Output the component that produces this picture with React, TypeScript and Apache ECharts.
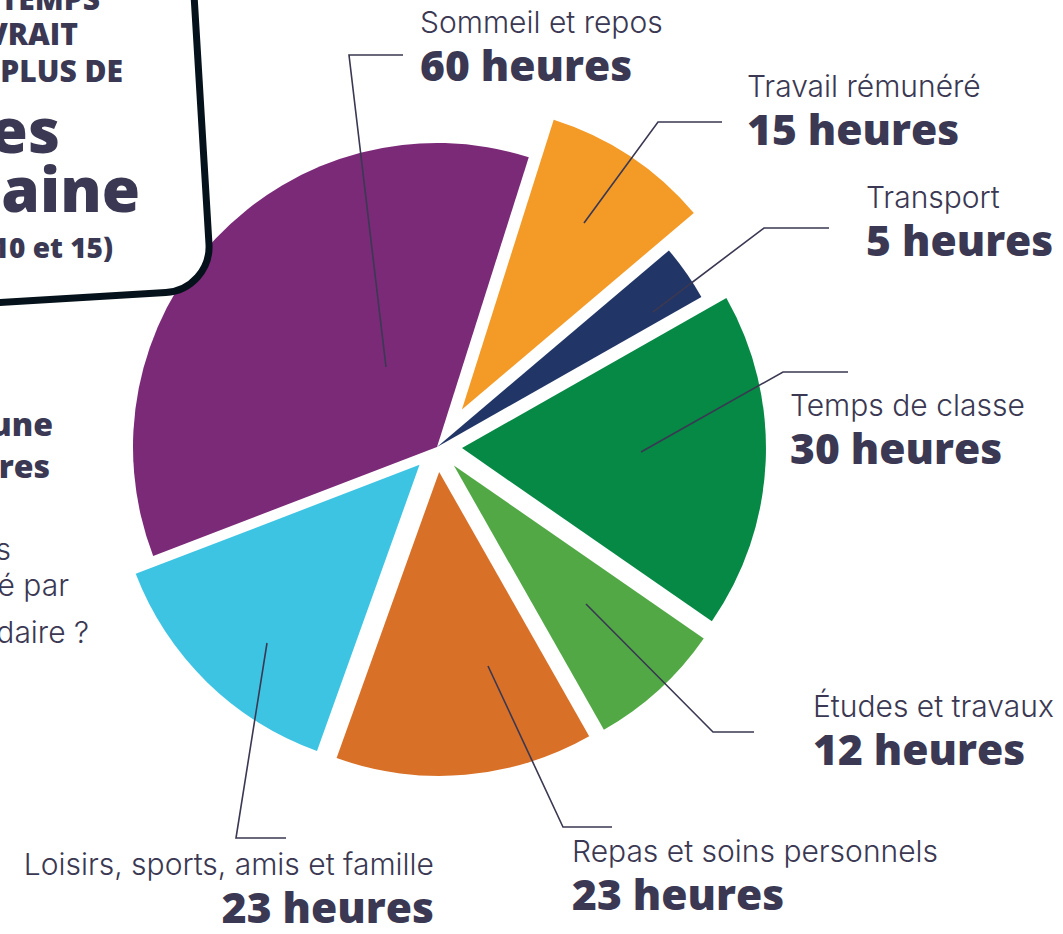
import React, { useEffect, useRef } from "react";
import * as echarts from "echarts";

// ---- data ----
const categories = [
  "Sommeil et repos",
  "Travail rémunéré",
  "Transport",
  "Temps de classe",
  "Études et travaux",
  "Repas et soins personnels",
  "Loisirs, sports, amis et famille",
];
const hours = [60, 15, 5, 30, 12, 23, 23];
const unit = "heures";
const sliceColors = ["#7b2a78", "#f39a27", "#213566", "#058945", "#51a845", "#d97027", "#3ec4e3"];
// explode level of each slice: 0 = in place, 1 = pulled out, 2 = pulled out further
const explodeLevel = [0, 2, 0, 1, 1, 1, 1];

// fragments of the neighbouring panel (cut by the page edge)
const boxLines = ["TEMPS", "VRAIT", "PLUS DE"];
const boxBig = ["es", "maine"];
const boxNote = "10 et 15)";
const sideBold = ["une", "res"];
const sideRegular = ["s", "é par", "daire ?"];

// ---- layout / style ----
const INK = "#3a3852";
const CENTER = [437, 447];
const RADIUS = 304;
const START = 201;
const labelAnchors: [number, number, "left" | "right"][] = [
  [420, 6, "left"],
  [747, 70, "left"],
  [866, 181, "left"],
  [790, 389, "left"],
  [813, 690, "left"],
  [572, 835, "left"],
  [434, 848, "right"],
];
const leaderLines = [
  [[386, 367], [349, 55], [403, 55]],
  [[584, 223], [658, 122], [722, 122]],
  [[653, 312], [764, 228], [829, 228]],
  [[641, 452], [783, 372], [848, 372]],
  [[586, 604], [713, 732], [754, 732]],
  [[488, 666], [563, 827], [612, 827]],
  [[267, 643], [236, 838], [286, 838]],
];

// rounded panel outline (bottom-right corner of a larger card)
const PANEL_D = "M-800 -600 L194 -600 L194 256 A46 46 0 0 1 148 302 L-800 302 Z";
let panelRegistered = false;
function registerPanel() {
  if (panelRegistered) return;
  echarts.graphic.registerShape("panelOutline", echarts.graphic.extendPath(PANEL_D, {}) as any);
  panelRegistered = true;
}

function sliceSeries(level: number, offset: number, z: number) {
  return {
    type: "pie",
    z,
    silent: true,
    center: CENTER,
    radius: [0, RADIUS],
    startAngle: START,
    clockwise: true,
    selectedMode: "multiple",
    selectedOffset: offset,
    avoidLabelOverlap: false,
    label: { show: false },
    labelLine: { show: false },
    select: { itemStyle: { borderWidth: 0 } },
    itemStyle: { borderWidth: 0 },
    data: categories.map((name, i) => {
      const visible = level === 1 ? explodeLevel[i] <= 1 : explodeLevel[i] === level;
      return {
        name,
        value: hours[i],
        selected: visible && explodeLevel[i] === level,
        itemStyle: { color: visible ? sliceColors[i] : "rgba(0,0,0,0)" },
      };
    }),
  };
}

const labelSeries = {
  type: "pie",
  z: 5,
  silent: true,
  center: CENTER,
  radius: [0, RADIUS],
  startAngle: START,
  clockwise: true,
  avoidLabelOverlap: false,
  itemStyle: { color: "rgba(0,0,0,0)", borderWidth: 0 },
  label: {
    show: true,
    position: "outside",
    formatter: (p: any) => `{n|${p.name}}\n{v|${p.value} ${unit}}`,
    rich: {
      n: { fontFamily: "Inter", fontWeight: 300, fontSize: 30, lineHeight: 32, color: INK },
      v: { fontFamily: "Open Sans", fontWeight: 800, fontSize: 42.5, lineHeight: 52, color: INK },
    },
  },
  labelLine: { show: true, smooth: false, lineStyle: { color: INK, width: 1.6 } },
  labelLayout: (params: any) => {
    const i = params.dataIndex;
    const a = labelAnchors[i];
    return { x: a[0], y: a[1], align: a[2], verticalAlign: "top", labelLinePoints: leaderLines[i] };
  },
  data: categories.map((name, i) => ({ name, value: hours[i] })),
};

function fragText(text: string, right: number, baseline: number, size: number, weight: number, family: string) {
  return {
    type: "text",
    z: 12,
    x: right,
    y: baseline - 0.37 * size,
    style: {
      text,
      fill: INK,
      font: `${weight} ${size}px "${family}"`,
      align: "right",
      verticalAlign: "middle",
    },
  };
}

export default function App() {
  const ref = useRef<HTMLDivElement>(null);
  useEffect(() => {
    if (!ref.current) return;
    registerPanel();
    const chart = echarts.init(ref.current, null, { renderer: "svg" });
    chart.setOption({
      animation: false,
      backgroundColor: "#ffffff",
      series: [sliceSeries(1, 25, 2), sliceSeries(2, 45, 1), labelSeries],
      graphic: [
        {
          type: "panelOutline",
          z: 10,
          x: 0,
          y: 0,
          scaleX: 1,
          scaleY: 1,
          rotation: 0.06,
          style: { fill: "#ffffff", stroke: "#06121b", lineWidth: 7 },
        },
        fragText(boxLines[0], 100, 10, 30, 800, "Open Sans"),
        fragText(boxLines[1], 78, 45, 30, 800, "Open Sans"),
        fragText(boxLines[2], 123, 82, 30, 800, "Open Sans"),
        fragText(boxBig[0], 60, 152, 62, 800, "Open Sans"),
        fragText(boxBig[1], 140, 211, 62, 800, "Open Sans"),
        fragText(boxNote, 113, 257, 28, 800, "Open Sans"),
        fragText(sideBold[0], 53, 435, 32, 800, "Open Sans"),
        fragText(sideBold[1], 50, 477, 32, 800, "Open Sans"),
        fragText(sideRegular[0], 11, 560, 30, 300, "Inter"),
        fragText(sideRegular[1], 69, 596, 30, 300, "Inter"),
        fragText(sideRegular[2], 89, 643, 30, 300, "Inter"),
      ],
    });
    return () => chart.dispose();
  }, []);
  return (
    <div
      ref={ref}
      style={{ position: "absolute", left: 0, top: 0, width: 1063, height: 934 }}
    />
  );
}
